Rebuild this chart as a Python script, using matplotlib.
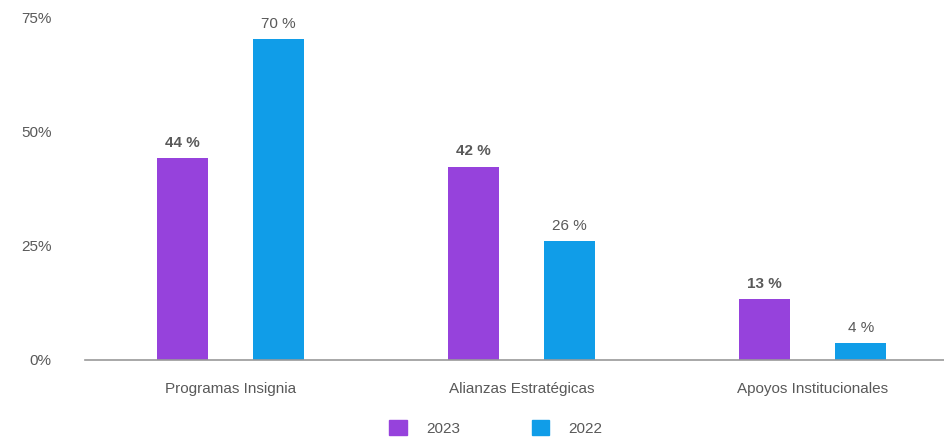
import numpy as np
from matplotlib import pyplot as plt
from matplotlib.patches import Patch

plt.rcParams['font.family'] = ['Liberation Sans', 'DejaVu Sans']

categories = ['Programas Insignia', 'Alianzas Estratégicas', 'Apoyos Institucionales']
series_names = ['2023', '2022']
values_2023 = [44.3, 42.4, 13.4]
values_2022 = [70.4, 26.0, 3.7]
ytick_values = [0, 25, 50, 75]
ytick_labels = ['0%', '25%', '50%', '75%']

purple = '#9642DC'
blue = '#109DE8'
text_color = '#595959'
fs = 11

fig = plt.figure(figsize=(9.44, 4.43), dpi=100)
ax = fig.add_axes([0.090, 0.1874, 0.925, 0.772])

x = np.arange(len(categories))
w = 0.175
off = 0.165
bars1 = ax.bar(x - off, values_2023, w, color=purple)
bars2 = ax.bar(x + off, values_2022, w, color=blue)

for b, v in zip(bars1, values_2023):
    ax.annotate(f'{round(v)} %', (b.get_x() + b.get_width() / 2, v), xytext=(0, 6),
                textcoords='offset points', ha='center', va='bottom',
                fontsize=fs, fontweight='bold', color=text_color)
for b, v in zip(bars2, values_2022):
    ax.annotate(f'{round(v)} %', (b.get_x() + b.get_width() / 2, v), xytext=(0, 6),
                textcoords='offset points', ha='center', va='bottom',
                fontsize=fs, color=text_color)

ax.set_xlim(-0.5, 2.5)
ax.set_ylim(0, 75)
ax.set_xticks(x)
ax.set_xticklabels(categories, fontsize=fs, color=text_color)
ax.set_yticks(ytick_values)
ax.set_yticklabels(ytick_labels, fontsize=fs, color=text_color)
ax.tick_params(axis='x', length=0, pad=16)
ax.tick_params(axis='y', length=0, pad=24)

for s in ['top', 'right', 'left']:
    ax.spines[s].set_visible(False)
ax.spines['bottom'].set_color('#999999')
ax.spines['bottom'].set_linewidth(1.2)

handles = [Patch(color=purple), Patch(color=blue)]
fig.legend(handles, series_names, loc='center', bbox_to_anchor=(0.5254, 0.034),
           ncol=2, frameon=False, fontsize=fs, handlelength=1.15, handleheight=1.15,
           handletextpad=1.25, columnspacing=4.7, labelcolor=text_color)

fig.savefig('out.png', dpi=100)
